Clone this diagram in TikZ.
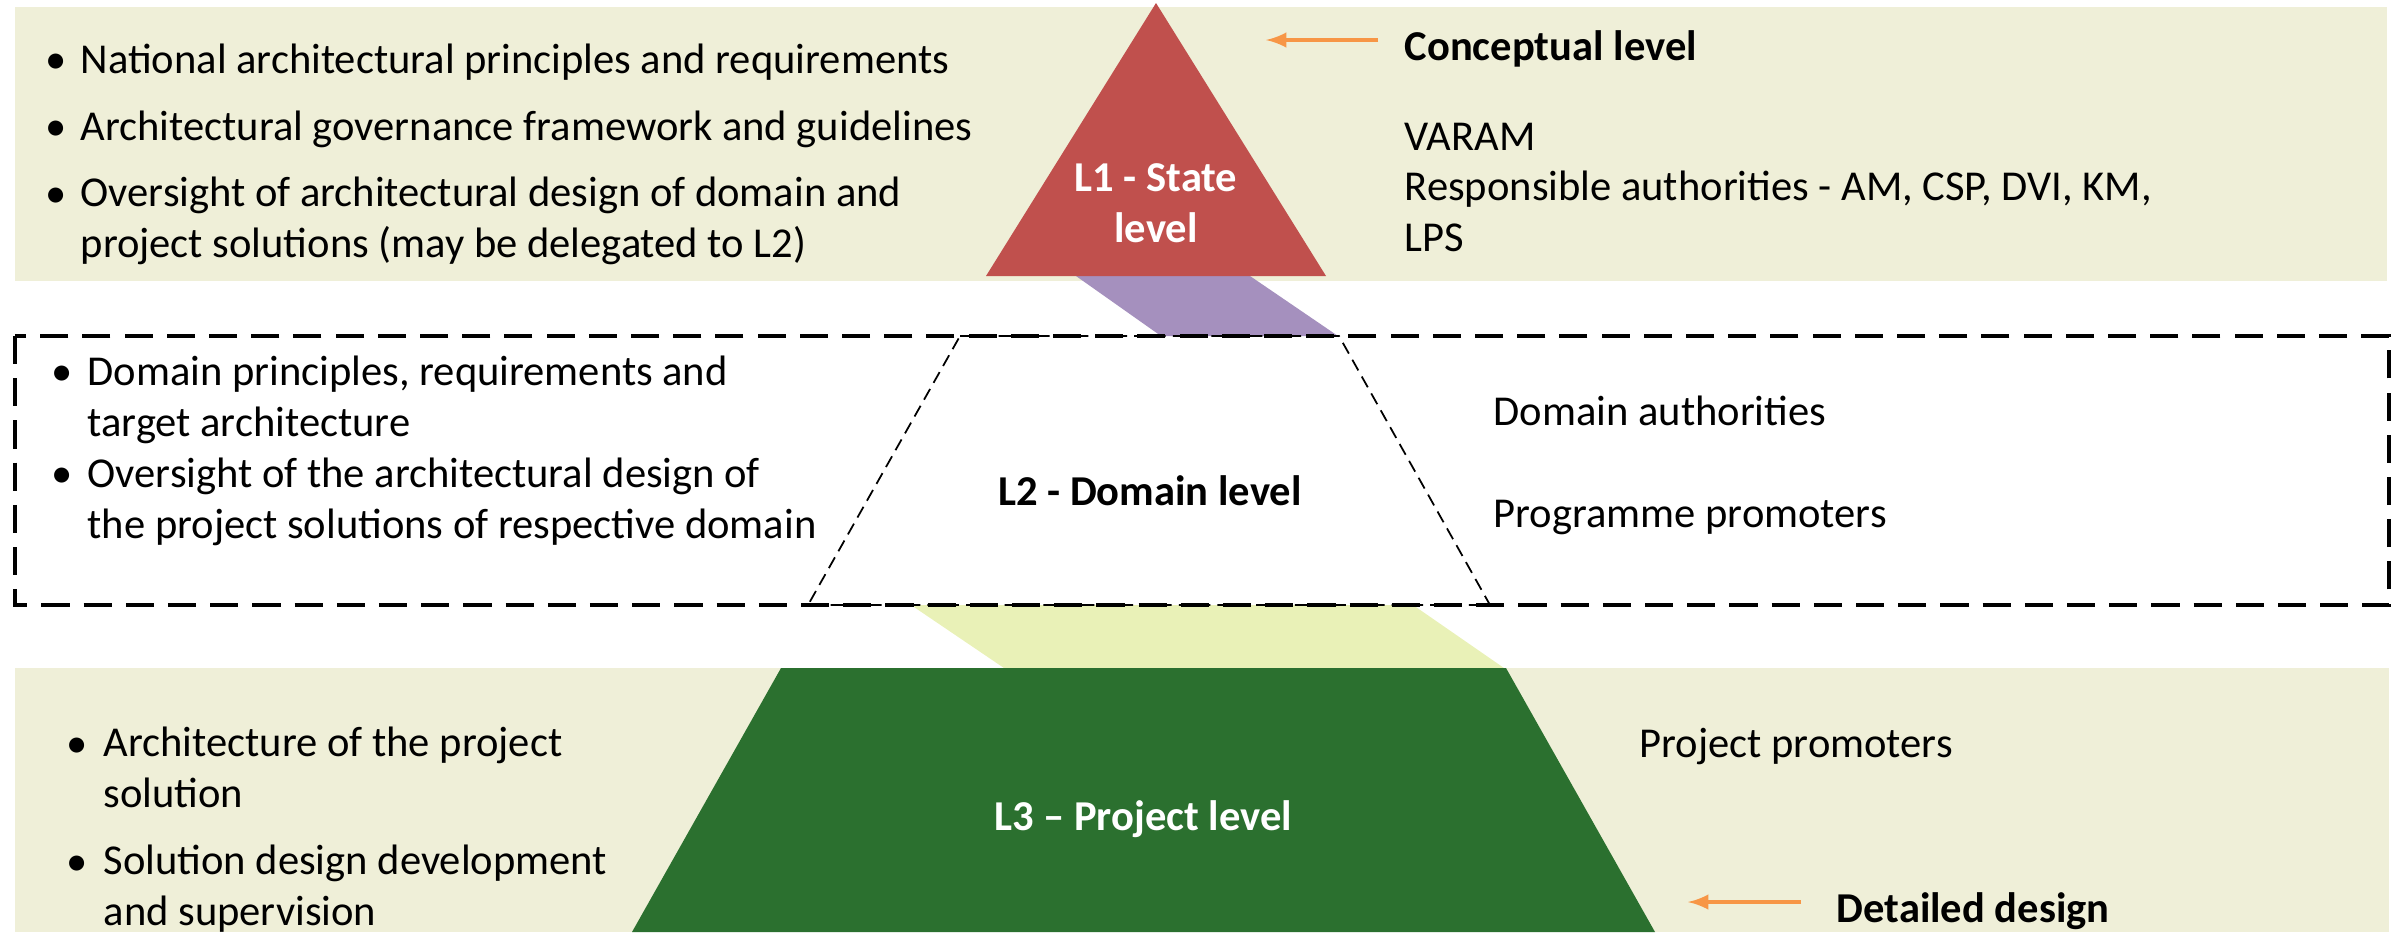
\documentclass[tikz,border=0pt]{standalone}
\usepackage{fontspec}
\setmainfont{Carlito}
\usetikzlibrary{arrows}
\definecolor{bandbg}{HTML}{EFEFD8}
\definecolor{statered}{HTML}{C0504D}
\definecolor{linkpurple}{HTML}{A590BE}
\definecolor{linkyellow}{HTML}{E9F1B7}
\definecolor{projgreen}{HTML}{2B702F}
\definecolor{orangeline}{HTML}{F79646}
\newcommand{\bodysize}{\fontsize{12.1}{14.3}\selectfont}

\begin{document}
\begin{tikzpicture}[
			x=0.01cm, y=-0.01cm,
			band/.style={fill=bandbg, draw=none},
			frame/.style={draw=black, line width=0.9pt, dash pattern=on 8pt off 4pt},
			trap/.style={draw=black, line width=0.5pt, dash pattern=on 3.5pt off 2pt},
			txt/.style={font=\bodysize, anchor=base west, inner sep=0pt, align=left},
			blt/.style={font=\bodysize, anchor=base west, inner sep=0pt},
			lvl/.style={font=\bodysize\bfseries, anchor=base, inner sep=0pt, align=center},
			oarrow/.style={draw=orangeline, line width=1pt, ->, >=latex}
		]
			\useasboundingbox (0,0) rectangle (2403,932);
			\fill[band] (15,7) rectangle (2387,281);
			\fill[band] (15,668) rectangle (2389,932);
			\fill[linkpurple] (1076,276) -- (1250,276) -- (1338,336) -- (1161,336) -- cycle;
			\fill[linkyellow] (911,605) -- (1413,605) -- (1504,668) -- (1004,668) -- cycle;
			\fill[statered] (1156,3) -- (1326,276) -- (986,276) -- cycle;
			\fill[projgreen] (781,668) -- (1506,668) -- (1655,932) -- (632,932) -- cycle;
			\draw[frame] (15,336) rectangle (2389,605);
			\draw[trap] (960,336) -- (1339,336) -- (1490,605) -- (808,605) -- cycle;
			% state level (multi-line nodes sit on their last baseline)
			\node[blt] (natb) at (45,73) {\textbullet};
			\node[txt] (nat) at (80,73) {National architectural principles and requirements};
			\node[blt] (govb) at (45,140) {\textbullet};
			\node[txt] (gov) at (80,140) {Architectural governance framework and guidelines};
			\node[blt] (ovsb) at (45,207) {\textbullet};
			\node[txt] (ovs) at (80,257) {Oversight of architectural design of domain and\\project solutions (may be delegated to L2)};
			\node[lvl, text=white] (lone) at (1156,242) {L1 - State\\level};
			\node[txt, font=\bodysize\bfseries] (concl) at (1404,60) {Conceptual level};
			\node[txt] (varam) at (1404,150) {VARAM};
			\node[txt] (resp) at (1404,251) {Responsible authorities - AM, CSP, DVI, KM,\\LPS};
			% domain level
			\node[blt] (domb) at (51,385) {\textbullet};
			\node[txt] (dom) at (87,436) {Domain principles, requirements and\\target architecture};
			\node[blt] (ovdb) at (51,487) {\textbullet};
			\node[txt] (ovd) at (87,538) {Oversight of the architectural design of\\the project solutions of respective domain};
			\node[lvl] (ltwo) at (1150,505) {L2 - Domain level};
			\node[txt] (domauth) at (1493,425) {Domain authorities};
			\node[txt] (progprom) at (1493,527) {Programme promoters};
			% project level
			\node[blt] (archb) at (66,757) {\textbullet};
			\node[txt] (arch) at (103,807) {Architecture of the project\\solution};
			\node[blt] (solb) at (66,875) {\textbullet};
			\node[txt] (sol) at (103,925) {Solution design development\\and supervision};
			\node[lvl, text=white] (lthree) at (1143,830) {L3 -- Project level};
			\node[txt] (projprom) at (1639,757) {Project promoters};
			\node[txt, font=\bodysize\bfseries] (detd) at (1836,922) {Detailed design};
			\coordinate (ctail) at (1378,40);
			\coordinate (chead) at (1266,40);
			\coordinate (dtail) at (1801,902);
			\coordinate (dhead) at (1688,902);
			\draw[oarrow] (ctail) -- (chead);
			\draw[oarrow] (dtail) -- (dhead);
		\end{tikzpicture}
\end{document}
